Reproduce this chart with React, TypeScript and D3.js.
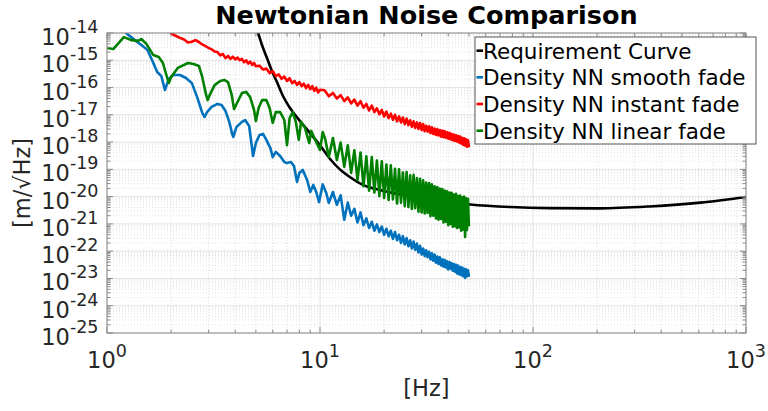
import React from 'react';
import * as d3 from 'd3';

// ---------------- DATA (amplitudes stored as log10 of ASD in m/√Hz) ----------------
const xTickExponents = [0, 1, 2, 3];
const yTickExponents = [-25, -24, -23, -22, -21, -20, -19, -18, -17, -16, -15, -14];

const legendLabels = [
  'Requirement Curve',
  'Density NN smooth fade',
  'Density NN instant fade',
  'Density NN linear fade',
];
const seriesColors = ['#000000', '#0072BD', '#FF0000', '#008000'];

// shared half-Hz frequency grid 10.5 .. 50 Hz
const halfHzGrid = [
  10.5, 11, 11.5, 12, 12.5, 13, 13.5, 14, 14.5, 15,
  15.5, 16, 16.5, 17, 17.5, 18, 18.5, 19, 19.5, 20,
  20.5, 21, 21.5, 22, 22.5, 23, 23.5, 24, 24.5, 25,
  25.5, 26, 26.5, 27, 27.5, 28, 28.5, 29, 29.5, 30,
  30.5, 31, 31.5, 32, 32.5, 33, 33.5, 34, 34.5, 35,
  35.5, 36, 36.5, 37, 37.5, 38, 38.5, 39, 39.5, 40,
  40.5, 41, 41.5, 42, 42.5, 43, 43.5, 44, 44.5, 45,
  45.5, 46, 46.5, 47, 47.5, 48, 48.5, 49, 49.5, 50,
];

// Requirement curve
const requirementFreq = [4.95, 5.12, 5.34, 5.64, 5.95, 6.28, 6.7, 7.23, 8.06, 8.98,
  10, 11.1, 12.4, 13.8, 15.9, 19.1, 24.5, 29.5, 39.4, 50.6,
  78, 120, 205, 352, 611, 1000];
const requirementLog = [-13.7, -14.0, -14.44, -14.92, -15.4, -15.8, -16.31, -16.75, -17.23, -17.67,
  -18.12, -18.6, -19.0, -19.28, -19.57, -19.76, -19.94, -20.05, -20.2, -20.29,
  -20.38, -20.42, -20.43, -20.36, -20.22, -20.01];

// Density NN smooth fade (blue)
const smoothLowFreq = [1.15, 1.25, 1.35, 1.45, 1.55, 1.65, 1.72, 1.8, 1.87,
  1.95, 2.05, 2.2, 2.35, 2.5, 2.65, 2.8, 2.87, 2.95,
  3.1, 3.3, 3.45, 3.6, 3.75, 3.87, 3.92, 4.05, 4.3,
  4.45, 4.65, 4.85, 5.0, 5.2, 5.4, 5.6, 5.85, 6.0,
  6.2, 6.5, 6.8, 7.0, 7.3, 7.55, 7.8, 8.0, 8.3,
  8.7, 9.0, 9.3, 9.6, 9.9, 10.3, 10.7];
const smoothLowLog = [-13.75, -14.05, -14.26, -14.44, -14.62, -15.1, -15.43, -15.58, -16.09,
  -15.69, -15.54, -15.54, -15.65, -15.83, -16.35, -16.93, -17.08, -16.9,
  -16.71, -16.6, -16.64, -16.86, -17.26, -17.7, -17.81, -17.45, -17.26,
  -17.19, -17.41, -18.51, -18.03, -17.74, -17.7, -17.92, -18.22, -18.55,
  -18.36, -18.51, -18.73, -18.77, -18.73, -18.88, -19.46, -19.13, -19.02,
  -19.39, -19.83, -19.57, -19.83, -20.2, -19.55, -19.87];
const smoothHighLog = [ // 11 .. 50 Hz, half-Hz steps
  -20.23, -19.83, -20.3, -19.95, -20.85, -20.22, -20.7, -20.45, -20.95, -20.58,
  -21.05, -20.8, -21.15, -20.92, -21.25, -21.02, -21.3, -21.1, -21.4, -21.18,
  -21.45, -21.25, -21.55, -21.3, -21.6, -21.4, -21.7, -21.45, -21.75, -21.52,
  -21.82, -21.6, -21.9, -21.65, -21.95, -21.72, -22.05, -21.8, -22.12, -21.9,
  -22.18, -21.97, -22.22, -22.02, -22.3, -22.08, -22.35, -22.12, -22.42, -22.2,
  -22.47, -22.22, -22.52, -22.3, -22.57, -22.32, -22.6, -22.37, -22.67, -22.4,
  -22.64, -22.44, -22.72, -22.47, -22.75, -22.5, -22.82, -22.53, -22.85, -22.58,
  -22.88, -22.6, -22.92, -22.65, -22.98, -22.66, -22.92, -22.7, -22.9,
];

// Density NN instant fade (red)
const instantLowFreq = [1.95, 2.0, 2.1, 2.2, 2.3, 2.4, 2.5, 2.6, 2.7, 2.8, 2.9,
  3.0, 3.1, 3.2, 3.3, 3.4, 3.5, 3.6, 3.7, 3.8, 3.9,
  4.0, 4.1, 4.2, 4.3, 4.4, 4.5, 4.6, 4.7, 4.8, 4.9, 5.0];
const instantLowLog = [-13.9, -14.02, -14.1, -14.18, -14.24, -14.35, -14.32, -14.26, -14.33, -14.42, -14.48,
  -14.55, -14.6, -14.68, -14.7, -14.82, -14.77, -14.92, -14.84, -14.95, -14.87,
  -14.97, -14.9, -15.0, -14.95, -15.07, -15.0, -15.12, -15.05, -15.17, -15.1, -15.22];
const instantMidFreq = [5.2, 5.4, 5.6, 5.8, 6.0, 6.2, 6.4, 6.6, 6.8, 7.0,
  7.2, 7.4, 7.6, 7.8, 8.0, 8.2, 8.4, 8.6, 8.8, 9.0,
  9.2, 9.4, 9.6, 9.8, 10.0];
const instantMidLog = [-15.2, -15.34, -15.3, -15.47, -15.4, -15.58, -15.52, -15.68, -15.6, -15.76,
  -15.66, -15.84, -15.76, -15.9, -15.8, -15.95, -15.86, -16.02, -15.9, -16.06,
  -15.95, -16.12, -16.0, -16.18, -16.08];
const instantHighLog = [ // 10.5 .. 50 Hz, half-Hz steps
  -16.1, -16.32, -16.2, -16.4, -16.28, -16.5, -16.36, -16.58, -16.44, -16.66,
  -16.5, -16.74, -16.6, -16.84, -16.66, -16.9, -16.76, -16.98, -16.82, -17.06,
  -16.88, -17.12, -16.96, -17.18, -17.0, -17.24, -17.06, -17.28, -17.1, -17.34,
  -17.14, -17.38, -17.2, -17.44, -17.24, -17.48, -17.28, -17.52, -17.3, -17.56,
  -17.34, -17.6, -17.4, -17.62, -17.42, -17.67, -17.46, -17.7, -17.5, -17.74,
  -17.52, -17.76, -17.56, -17.8, -17.58, -17.82, -17.6, -17.84, -17.64, -17.88,
  -17.66, -17.9, -17.7, -17.93, -17.72, -17.96, -17.75, -17.98, -17.78, -18.02,
  -17.8, -18.05, -17.84, -18.1, -17.86, -18.13, -17.9, -18.17, -17.93, -18.15,
];

// Density NN linear fade (green)
const linearLowFreq = [1, 1.07, 1.2, 1.3, 1.4, 1.45, 1.53, 1.65, 1.75,
  1.83, 1.9, 1.95, 2.0, 2.15, 2.4, 2.55, 2.7, 2.8,
  2.92, 2.97, 3.05, 3.2, 3.4, 3.55, 3.7, 3.85, 3.95,
  4.1, 4.3, 4.5, 4.7, 4.9, 5.0, 5.15, 5.35, 5.6,
  5.8, 6.0, 6.2, 6.5, 6.8, 7.0, 7.2, 7.45, 7.7,
  7.95, 8.15, 8.5, 8.9, 9.1, 9.5, 10.0, 10.3, 10.6];
const linearLowLog = [-14.55, -14.59, -14.15, -14.26, -14.29, -14.22, -14.4, -14.81, -14.88,
  -15.1, -15.54, -15.83, -15.61, -15.28, -15.1, -15.14, -15.21, -15.61,
  -16.27, -16.46, -16.24, -15.91, -15.76, -15.72, -15.8, -16.27, -16.79,
  -16.53, -16.2, -16.16, -16.35, -16.82, -17.23, -16.75, -16.46, -16.46,
  -16.75, -17.3, -16.9, -16.9, -17.19, -18.11, -17.12, -16.9, -17.26,
  -17.92, -17.26, -17.48, -18.03, -17.59, -17.92, -18.29, -17.63, -17.92];
const linearHighLog = [ // 11 .. 50 Hz, half-Hz steps
  -18.55, -17.85, -18.66, -18.02, -18.91, -18.12, -19.13, -18.3, -19.39, -18.38,
  -19.62, -18.52, -19.78, -18.55, -19.85, -18.68, -19.98, -18.7, -20.05, -18.82,
  -20.12, -18.85, -20.1, -18.98, -20.25, -19.0, -20.22, -19.12, -20.35, -19.1,
  -20.38, -19.22, -20.45, -19.2, -20.42, -19.32, -20.55, -19.35, -20.58, -19.4,
  -20.62, -19.48, -20.6, -19.5, -20.72, -19.55, -20.7, -19.62, -20.8, -19.65,
  -20.85, -19.7, -20.82, -19.72, -20.95, -19.78, -20.92, -19.8, -21.05, -19.85,
  -21.0, -19.86, -21.1, -19.92, -21.08, -19.9, -21.15, -19.98, -21.12, -19.96,
  -21.25, -20.02, -21.2, -20.0, -21.48, -20.06, -21.22, -20.08, -21.05,
];

// ---------------- LAYOUT ----------------
const W = 768;
const H = 411;
const PL = 107, PR = 746, PT = 33, PB = 333;
const FONT = "'DejaVu Sans', Verdana, sans-serif";
const TXT = '#262626';

type Pt = [number, number];
const zip = (f: number[], l: number[]): Pt[] => {
  const n = Math.min(f.length, l.length);
  const out: Pt[] = [];
  for (let i = 0; i < n; i++) out.push([f[i], Math.pow(10, l[i])]);
  return out;
};

export default function App() {
  const x = d3.scaleLog().domain([1, 1000]).range([PL, PR]);
  const y = d3.scaleLog().domain([1e-25, 1e-14]).range([PB, PT]);

  const line = d3.line<Pt>().x(d => x(d[0])).y(d => y(d[1]));
  const smoothLine = d3.line<Pt>().x(d => x(d[0])).y(d => y(d[1])).curve(d3.curveMonotoneX);

  const requirement = zip(requirementFreq, requirementLog);
  const smoothFade = zip(smoothLowFreq.concat(halfHzGrid.slice(1)), smoothLowLog.concat(smoothHighLog));
  const instantFade = zip(instantLowFreq.concat(instantMidFreq, halfHzGrid), instantLowLog.concat(instantMidLog, instantHighLog));
  const linearFade = zip(linearLowFreq.concat(halfHzGrid.slice(1)), linearLowLog.concat(linearHighLog));

  const xMajor = xTickExponents.map(e => Math.pow(10, e));
  const yMajor = yTickExponents.map(e => Math.pow(10, e));
  const xMinor: number[] = [];
  for (let e = 0; e < 3; e++) for (let m = 2; m <= 9; m++) xMinor.push(m * Math.pow(10, e));
  const yMinor: number[] = [];
  for (let e = -25; e < -14; e++) for (let m = 2; m <= 9; m++) yMinor.push(m * Math.pow(10, e));

  const axisColor = '#8a8a8a';
  const lw = 2.6;

  const legendRows = [50.7, 77.3, 104, 130.7];

  return (
    <svg width={W} height={H} style={{ position: 'absolute', left: 0, top: 0, background: '#fff' }} fontFamily={FONT}>
      <defs>
        <clipPath id="plotClip">
          <rect x={PL} y={PT} width={PR - PL} height={PB - PT} />
        </clipPath>
      </defs>
      <rect x={0} y={0} width={W} height={H} fill="#fff" />
      <rect x={PL} y={PT} width={PR - PL} height={PB - PT} fill="#fff" />

      {/* minor grid */}
      <g stroke="#cfcfcf" strokeWidth={0.6} strokeDasharray="1 2">
        {xMinor.map((v, i) => (
          <line key={'xm' + i} x1={x(v)} x2={x(v)} y1={PT} y2={PB} />
        ))}
        {yMinor.map((v, i) => (
          <line key={'ym' + i} x1={PL} x2={PR} y1={y(v)} y2={y(v)} />
        ))}
      </g>
      {/* major grid */}
      <g stroke="#e0e0e0" strokeWidth={0.9}>
        {xMajor.map((v, i) => (
          <line key={'xg' + i} x1={x(v)} x2={x(v)} y1={PT} y2={PB} />
        ))}
        {yMajor.map((v, i) => (
          <line key={'yg' + i} x1={PL} x2={PR} y1={y(v)} y2={y(v)} />
        ))}
      </g>

      {/* data */}
      <g clipPath="url(#plotClip)" fill="none" strokeLinejoin="round" strokeLinecap="round">
        <path d={smoothLine(requirement) || ''} stroke={seriesColors[0]} strokeWidth={lw} />
        <path d={line(smoothFade) || ''} stroke={seriesColors[1]} strokeWidth={lw} />
        <path d={line(instantFade) || ''} stroke={seriesColors[2]} strokeWidth={lw} />
        <path d={line(linearFade) || ''} stroke={seriesColors[3]} strokeWidth={lw} />
      </g>

      {/* axes box and ticks */}
      <g stroke={axisColor} strokeWidth={1}>
        <rect x={PL} y={PT} width={PR - PL} height={PB - PT} fill="none" />
        {xMajor.map((v, i) => (
          <g key={'xt' + i}>
            <line x1={x(v)} x2={x(v)} y1={PB} y2={PB - 6} />
            <line x1={x(v)} x2={x(v)} y1={PT} y2={PT + 6} />
          </g>
        ))}
        {xMinor.map((v, i) => (
          <g key={'xtm' + i}>
            <line x1={x(v)} x2={x(v)} y1={PB} y2={PB - 3.5} />
            <line x1={x(v)} x2={x(v)} y1={PT} y2={PT + 3.5} />
          </g>
        ))}
        {yMajor.map((v, i) => (
          <g key={'yt' + i}>
            <line x1={PL} x2={PL + 6} y1={y(v)} y2={y(v)} />
            <line x1={PR} x2={PR - 6} y1={y(v)} y2={y(v)} />
          </g>
        ))}
        {yMinor.map((v, i) => (
          <g key={'ytm' + i}>
            <line x1={PL} x2={PL + 3.5} y1={y(v)} y2={y(v)} />
            <line x1={PR} x2={PR - 3.5} y1={y(v)} y2={y(v)} />
          </g>
        ))}
      </g>

      {/* tick labels */}
      <g fill={TXT} fontSize={22.5}>
        {yTickExponents.map((e, i) => (
          <text key={'yl' + i} x={98.5} y={y(Math.pow(10, e)) + 12} textAnchor="end">
            10<tspan dy={-12} fontSize={17.5}>{String(e)}</tspan>
          </text>
        ))}
        {xTickExponents.map((e, i) => (
          <text key={'xl' + i} x={x(Math.pow(10, e))} y={PB + 35} textAnchor="middle">
            10<tspan dy={-11} fontSize={17.5}>{String(e)}</tspan>
          </text>
        ))}
      </g>

      {/* axis labels & title */}
      <text x={(PL + PR) / 2} y={396} textAnchor="middle" fontSize={22.5} fill={TXT}>[Hz]</text>
      <text transform={`translate(30, ${(PT + PB) / 2}) rotate(-90)`} textAnchor="middle" fontSize={22.5} fill={TXT}>[m/√Hz]</text>
      <text x={(PL + PR) / 2} y={23.5} textAnchor="middle" fontSize={25.5} fontWeight="bold" fill="#000">Newtonian Noise Comparison</text>

      {/* legend */}
      <g>
        <rect x={475} y={37} width={281} height={107} fill="#fff" stroke="#555" strokeWidth={1} />
        {legendLabels.map((lab, i) => (
          <g key={'lg' + i}>
            <line x1={476.5} x2={483} y1={legendRows[i]} y2={legendRows[i]} stroke={seriesColors[i]} strokeWidth={lw} />
            <text x={483} y={legendRows[i] + 8} fontSize={21.5} fill="#000">{lab}</text>
          </g>
        ))}
      </g>
    </svg>
  );
}
